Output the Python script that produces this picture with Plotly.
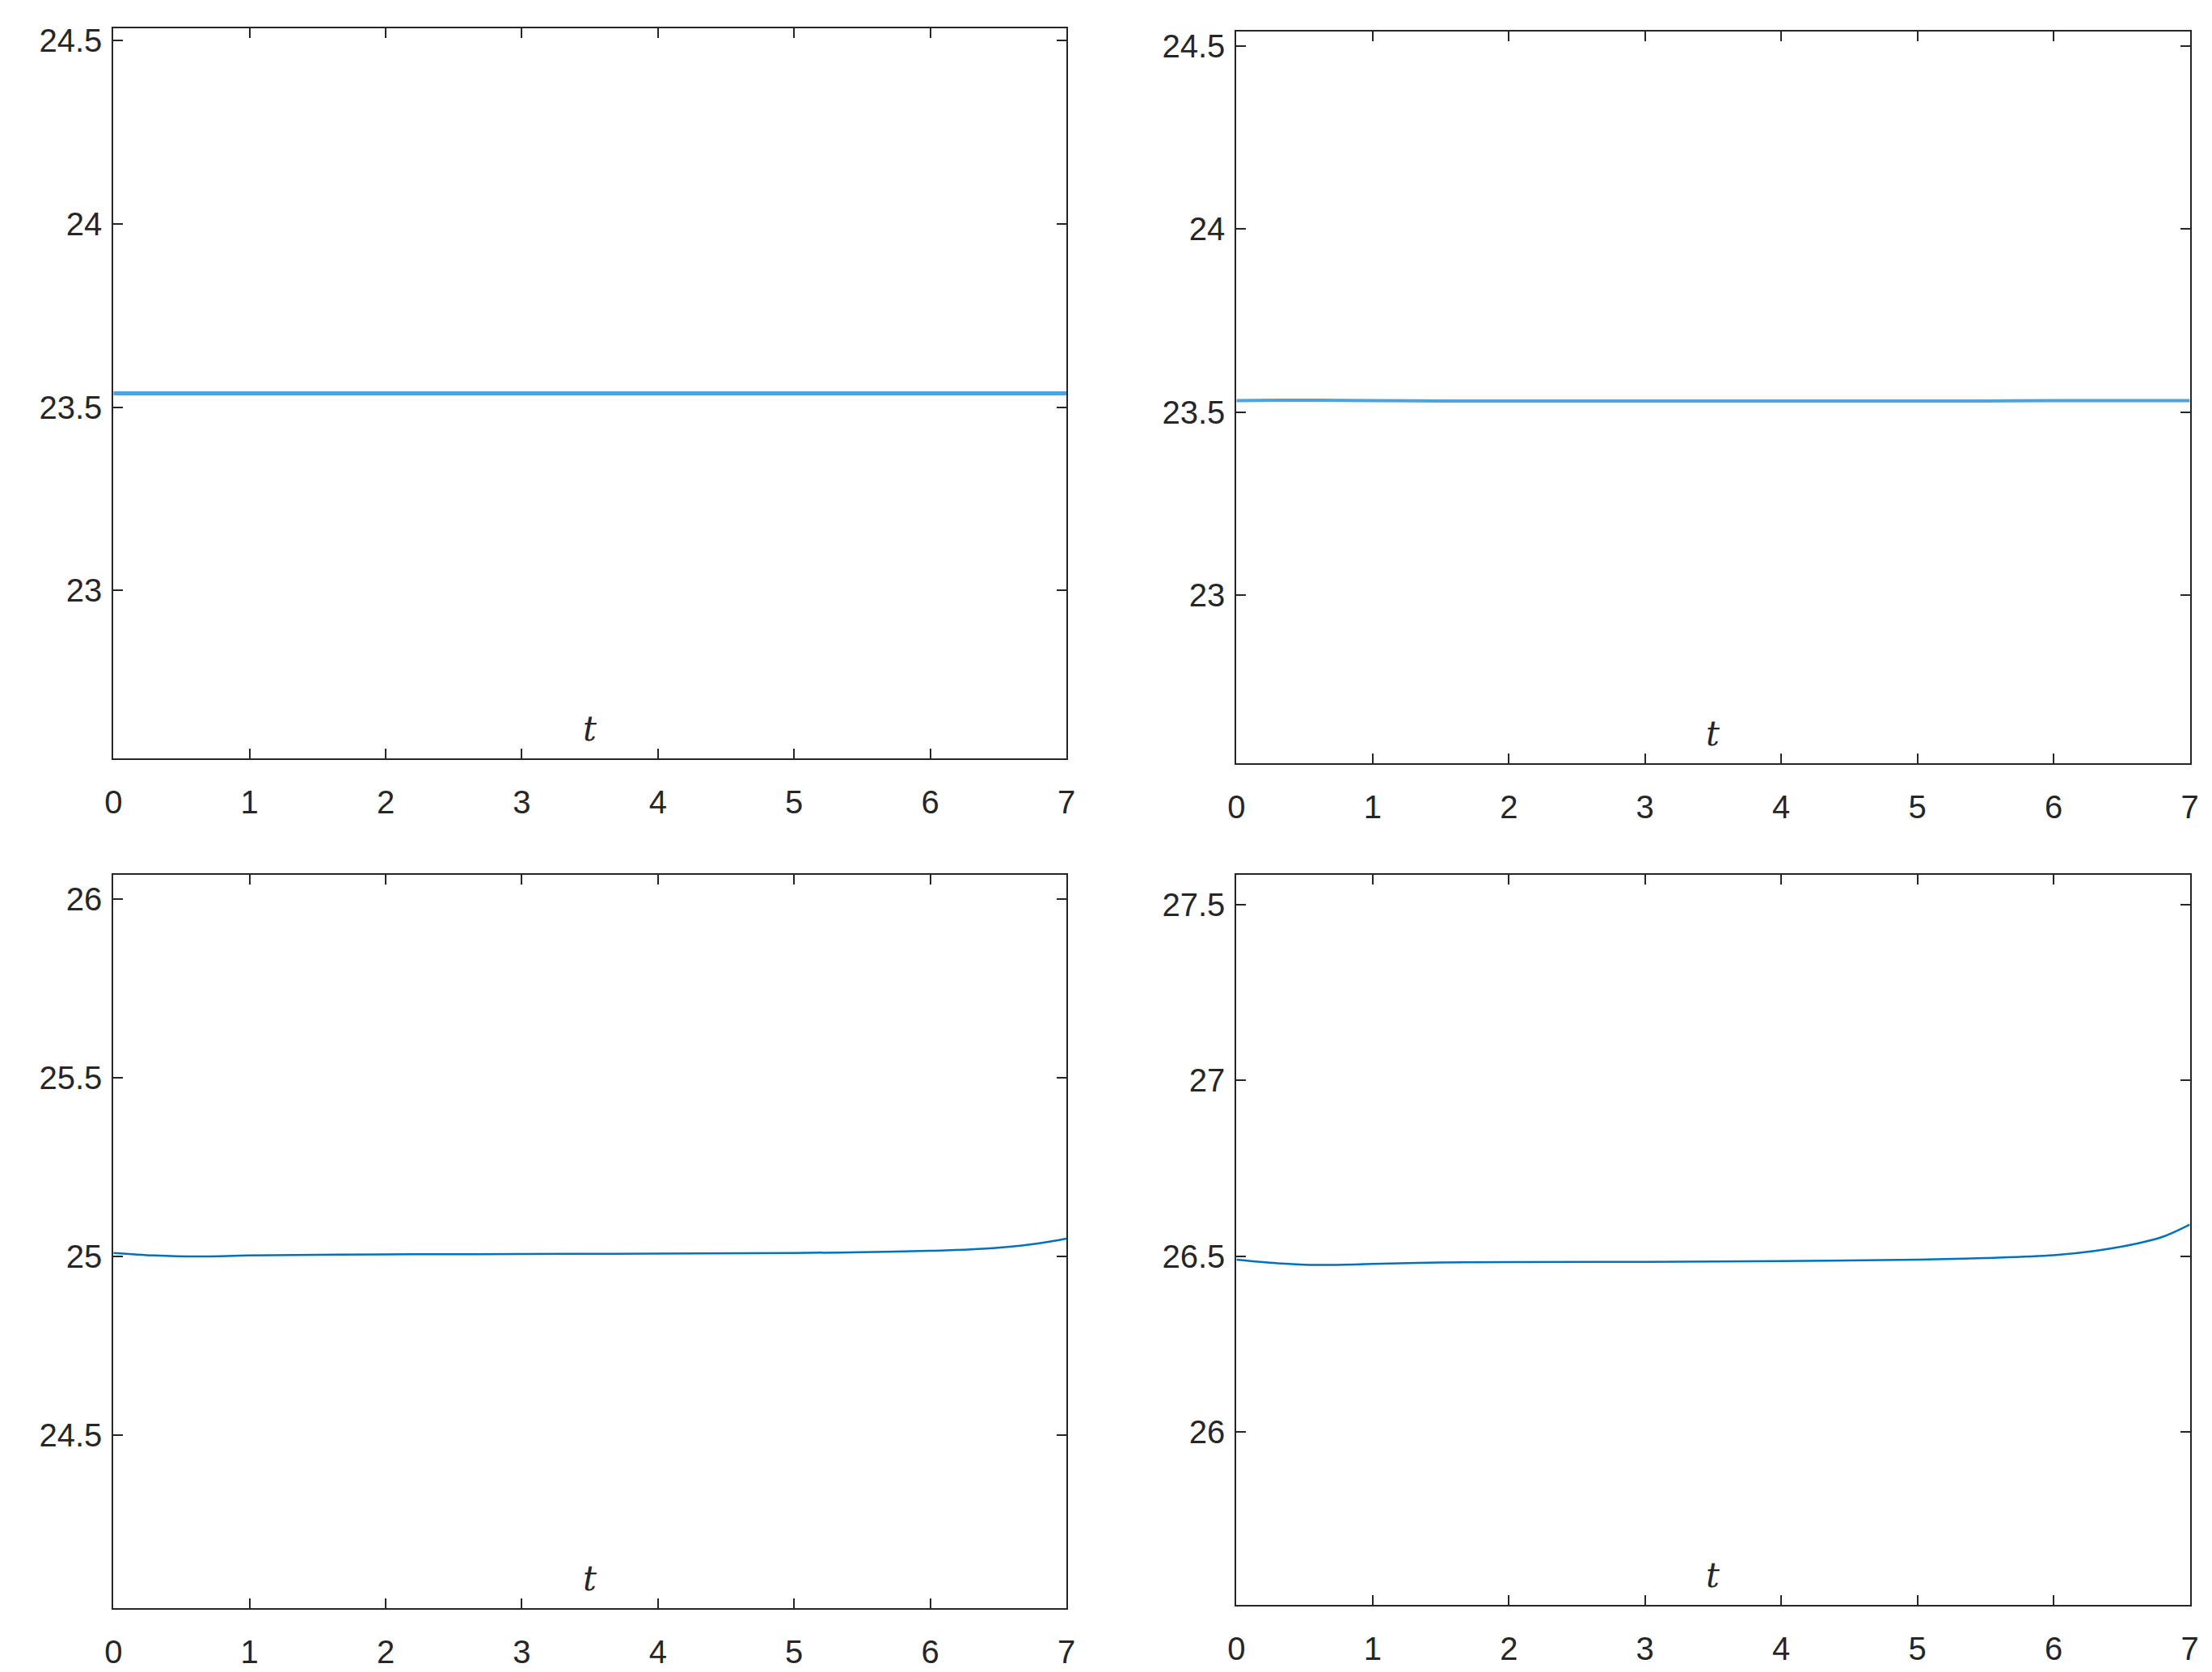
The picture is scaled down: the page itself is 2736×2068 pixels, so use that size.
import plotly.graph_objects as go

t = [0, 0.3, 0.6, 1, 1.5, 2, 3, 4, 5, 5.5, 6, 6.3, 6.6, 6.8, 7]
y1 = [23.538] * 15
y2 = [23.532, 23.533, 23.533, 23.532, 23.531, 23.531, 23.531, 23.531, 23.531, 23.531, 23.532, 23.532, 23.532, 23.532, 23.532]
y3 = [25.01, 25.003, 25.0, 25.003, 25.005, 25.006, 25.007, 25.008, 25.01, 25.012, 25.016, 25.02, 25.028, 25.037, 25.05]
y4 = [26.49, 26.48, 26.475, 26.478, 26.482, 26.483, 26.484, 26.486, 26.49, 26.495, 26.503, 26.515, 26.535, 26.555, 26.59]

series = [y1, y2, y3, y4]
yranges = [[22.542, 24.535], [22.542, 24.54], [24.016, 26.067], [25.508, 27.584]]
ytick_vals = [[23, 23.5, 24, 24.5], [23, 23.5, 24, 24.5], [24.5, 25, 25.5, 26], [25.5, 26, 26.5, 27, 27.5]]
xdom = [[0.0447, 0.479], [0.5565, 0.991], [0.0447, 0.479], [0.5565, 0.991]]
ydom = [[0.552, 0.990], [0.549, 0.988], [0.042, 0.482], [0.044, 0.482]]
colors = ["#4FA3DD", "#4FA3DD", "#0072BD", "#0072BD"]
widths = [5, 4, 2.5, 2.5]

fig = go.Figure()
for i in range(4):
    s = "" if i == 0 else str(i + 1)
    fig.add_trace(go.Scatter(x=t, y=series[i], mode="lines", line=dict(color=colors[i], width=widths[i], shape="spline"),
                             xaxis="x" + s, yaxis="y" + s, showlegend=False))
    ax = dict(showline=True, linecolor="#262626", linewidth=2, mirror="ticks", ticks="inside", ticklen=12,
              tickcolor="#262626", tickwidth=2, showgrid=False, zeroline=False,
              tickfont=dict(family="Arial, Liberation Sans", size=40, color="#262626"))
    fig.layout["xaxis" + s] = dict(ax, domain=xdom[i], range=[0, 7], tickvals=list(range(8)), anchor="y" + s,
                                   ticklabelstandoff=18)
    fig.layout["yaxis" + s] = dict(ax, domain=ydom[i], range=yranges[i], tickvals=ytick_vals[i], anchor="x" + s,
                                   ticklabelstandoff=4)
    fig.add_annotation(x=3.5, y=0.0, xref="x" + s, yref="y" + s + " domain", text="<i>t</i>", showarrow=False,
                       yanchor="bottom", yshift=10, font=dict(family="DejaVu Serif", size=42, color="#262626"))

fig.update_layout(width=2736, height=2068, plot_bgcolor="white", paper_bgcolor="white",
                  margin=dict(l=0, r=0, t=0, b=0))
fig.write_html("out.html")
